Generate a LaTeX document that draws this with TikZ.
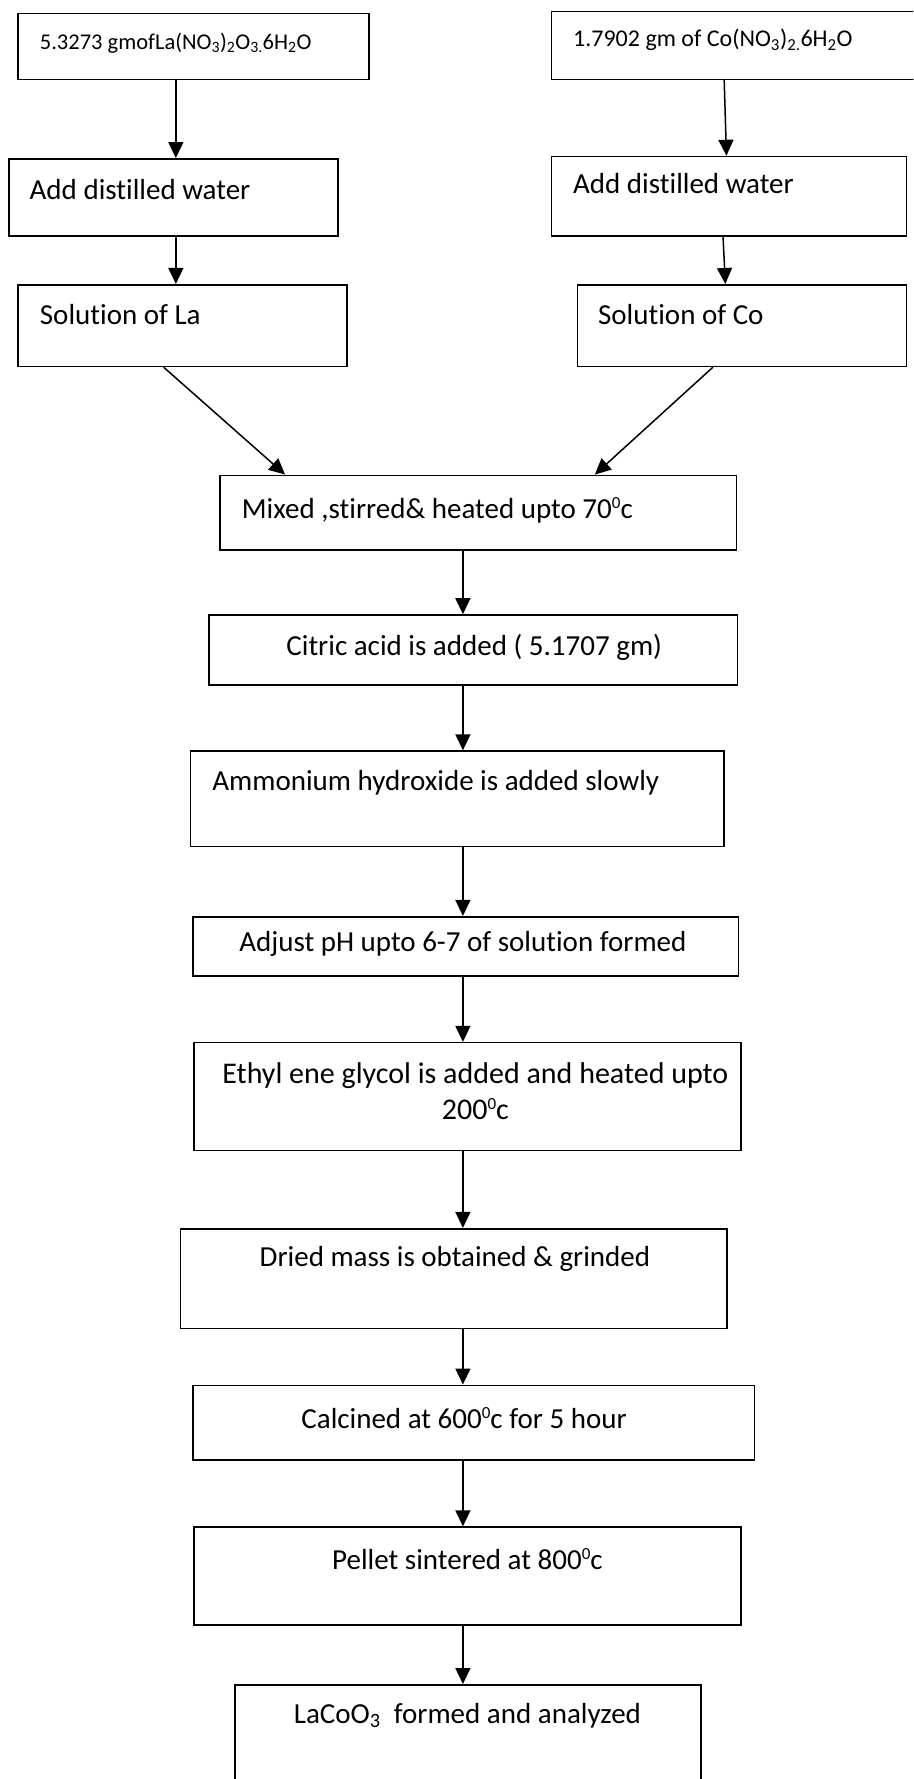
\documentclass[tikz,border=0pt]{standalone}
\usepackage{fontspec}
\setmainfont{Carlito}[RawFeature=-liga]
\usetikzlibrary{arrows.meta,calc,fit}
\newcommand{\degr}{\raisebox{0.75ex}{\fontsize{17}{17}\selectfont 0}}
\begin{document}
\begin{tikzpicture}[x=1.134pt,y=-1.134pt,
  box/.style={draw, line width=1.6pt, inner sep=0pt},
  txt/.style={inner sep=0pt, font=\fontsize{29}{35}\selectfont},
  smalltxt/.style={inner sep=0pt, font=\fontsize{24}{29}\selectfont},
  arr/.style={line width=1.5pt, -{Triangle[length=16pt,width=15pt]}}]
\useasboundingbox (0,0) rectangle (805,1568);
\clip (0,0) rectangle (805,1568);
% left column
\node[box, fit={(16,12) (325,70)}] (la1) {};
\node[box, fit={(8,140) (298,208)}] (la2) {};
\node[box, fit={(16,251) (306,323)}] (la3) {};
% right column
\node[box, fit={(486,10) (815,70)}] (co1) {};
\node[box, fit={(486,138) (799,208)}] (co2) {};
\node[box, fit={(509,251) (799,323)}] (co3) {};
% center column
\node[box, fit={(194,419) (649,485)}] (mix) {};
\node[box, fit={(184,542) (650,604)}] (cit) {};
\node[box, fit={(168,662) (638,746)}] (amm) {};
\node[box, fit={(170,808) (651,860)}] (adj) {};
\node[box, fit={(171,919) (653,1014)}] (eth) {};
\node[box, fit={(159,1083) (641,1171)}] (dry) {};
\node[box, fit={(170,1221) (665,1287)}] (cal) {};
\node[box, fit={(171,1346) (653,1432)}] (pel) {};
\node[box, fit={(207,1485) (618,1600)}] (lac) {};
% texts
\node[smalltxt, anchor=west, font=\fontsize{22.5}{27}\selectfont] (la1t) at (35,38) {5.3273 gmofLa(NO\textsubscript{3})\textsubscript{2}O\textsubscript{3.}6H\textsubscript{2}O};
\node[smalltxt, anchor=west] (co1t) at (505,35) {1.7902 gm of Co(NO\textsubscript{3})\textsubscript{2.}6H\textsubscript{2}O};
\node[txt, anchor=west] (la2t) at (26,167) {Add distilled water};
\node[txt, anchor=west] (co2t) at (505,162) {Add distilled water};
\node[txt, anchor=west] (la3t) at (35,277) {Solution of La};
\node[txt, anchor=west] (co3t) at (527,277) {Solution of Co};
\node[txt, anchor=west] (mixt) at (213,450) {Mixed ,stirred\& heated upto 70\degr c};
\node[txt] (citt) at (418,571) {Citric acid is added ( 5.1707 gm)};
\node[txt, anchor=west] (ammt) at (187,690) {Ammonium hydroxide is added slowly};
\node[txt] (adjt) at (408,832) {Adjust pH upto 6-7 of solution formed};
\node[txt, align=center, font=\fontsize{30}{36}\selectfont] (etht) at (419,962) {Ethyl ene glycol is added and heated upto\\200\degr c};
\node[txt] (dryt) at (401,1110) {Dried mass is obtained \& grinded};
\node[txt] (calt) at (409,1250) {Calcined at 600\degr c for 5 hour};
\node[txt] (pelt) at (412,1374) {Pellet sintered at 800\degr c};
\node[txt] (lact) at (412,1512) {LaCoO\textsubscript{3}\ \ formed and analyzed};
% connectors
\coordinate (xL) at (155,0);
\coordinate (xM) at (408,0);
\draw[arr] (la1.south -| xL) -- (la2.north -| xL);
\draw[arr] (la2.south -| xL) -- (la3.north -| xL);
\draw[arr] ($(co1.south west)+(153,0)$) -- ($(co2.north west)+(155,0)$);
\draw[arr] ($(co2.south west)+(152,0)$) -- ($(co3.north west)+(131,0)$);
\draw[arr] ($(la3.south west)+(129,0)$) -- ($(mix.north west)+(58,0)$);
\draw[arr] ($(co3.south west)+(120,0)$) -- ($(mix.north west)+(331,0)$);
\draw[arr] (mix.south -| xM) -- (cit.north -| xM);
\draw[arr] (cit.south -| xM) -- (amm.north -| xM);
\draw[arr] (amm.south -| xM) -- (adj.north -| xM);
\draw[arr] (adj.south -| xM) -- (eth.north -| xM);
\draw[arr] (eth.south -| xM) -- (dry.north -| xM);
\draw[arr] (dry.south -| xM) -- (cal.north -| xM);
\draw[arr] (cal.south -| xM) -- (pel.north -| xM);
\draw[arr] (pel.south -| xM) -- (lac.north -| xM);
\end{tikzpicture}
\end{document}
